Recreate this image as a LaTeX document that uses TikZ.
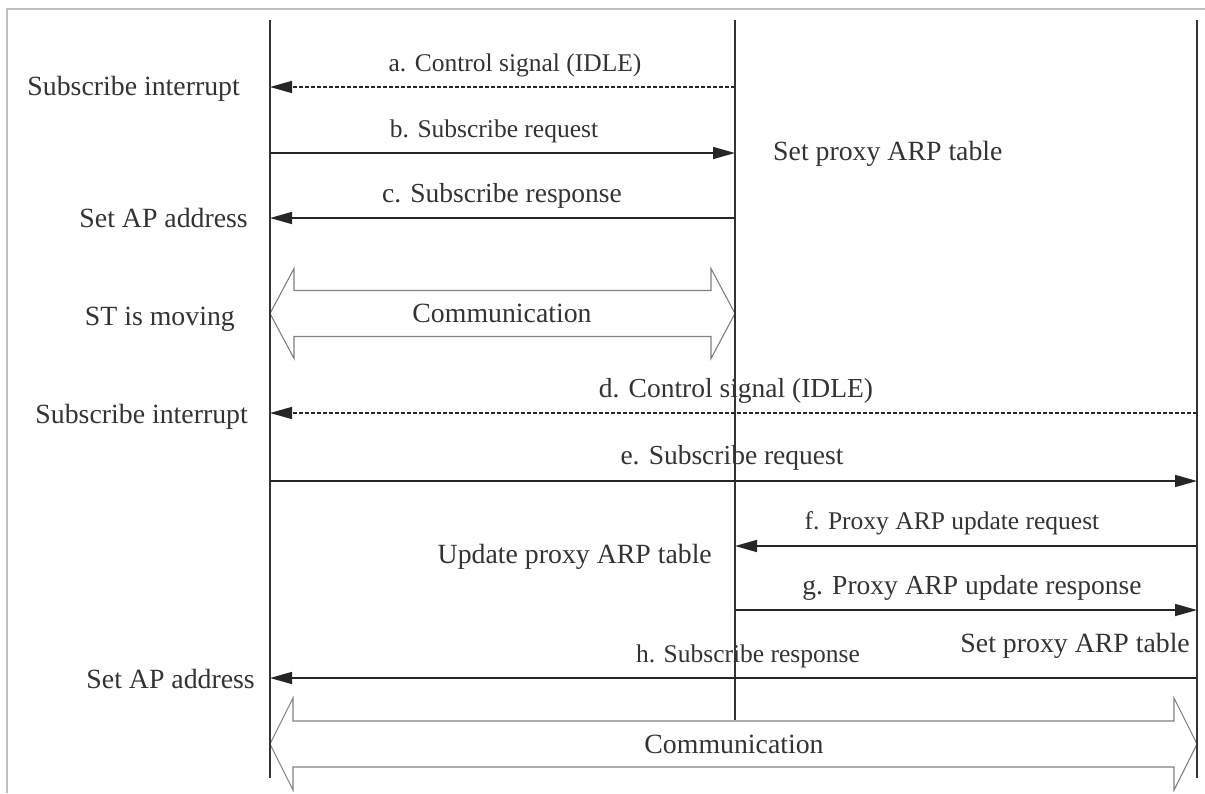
\documentclass[tikz,border=0pt]{standalone}
\usepackage{fontspec}
\setmainfont{Liberation Serif}
\usetikzlibrary{arrows.meta}
\begin{document}
\begin{tikzpicture}[x=1pt,y=-1pt,
  lifeline/.style={draw=black!80,line width=1.6pt},
  msg/.style={draw=black!85,line width=1.5pt,-{Triangle[length=22pt,width=12pt]}},
  dmsg/.style={msg,dash pattern=on 4pt off 2pt},
  mlabel/.style={anchor=base,text=black!80,inner sep=0pt,font=\fontsize{25.5}{28}\selectfont},
  mlabelL/.style={anchor=base,text=black!80,inner sep=0pt,font=\fontsize{27.5}{30}\selectfont},
  slabel/.style={text=black!80,inner sep=0pt,font=\fontsize{27.8}{30}\selectfont},
  hollow/.style={draw=black!50,line width=1.1pt,fill=white},
  frame/.style={draw=black!25,line width=2pt}]
\useasboundingbox (0,0) rectangle (1205,793);
\draw[frame] (7,793) -- (7,9) -- (1205,9);
% hollow double arrows
\draw[hollow] (270,313.5) -- (294,268.5) -- (294,290.5) -- (711,290.5) -- (711,268.5) -- (735,313.5) -- (711,358.5) -- (711,336.5) -- (294,336.5) -- (294,358.5) -- cycle;
\draw[hollow] (270,744) -- (293,698) -- (293,721) -- (1174,721) -- (1174,698) -- (1197,744) -- (1174,790) -- (1174,767) -- (293,767) -- (293,790) -- cycle;
% lifelines
\coordinate (L1t) at (270,20); \coordinate (L1b) at (270,778);
\coordinate (L2t) at (735,20); \coordinate (L2b) at (735,720);
\coordinate (L3t) at (1197,20); \coordinate (L3b) at (1197,778);
\draw[lifeline] (L1t) -- (L1b);
\draw[lifeline] (L2t) -- (L2b);
\draw[lifeline] (L3t) -- (L3b);
% message endpoints
\coordinate (a0) at (270,87);  \coordinate (a1) at (735,87);
\coordinate (b0) at (270,153); \coordinate (b1) at (735,153);
\coordinate (c0) at (270,218); \coordinate (c1) at (735,218);
\coordinate (d0) at (270,413); \coordinate (d1) at (1197,413);
\coordinate (e0) at (270,481); \coordinate (e1) at (1197,481);
\coordinate (f0) at (735,546); \coordinate (f1) at (1197,546);
\coordinate (g0) at (735,610); \coordinate (g1) at (1197,610);
\coordinate (h0) at (270,678); \coordinate (h1) at (1197,678);
\draw[dmsg] (a1) -- (a0);
\draw[msg] (b0) -- (b1);
\draw[msg] (c1) -- (c0);
\draw[dmsg] (d1) -- (d0);
\draw[msg] (e0) -- (e1);
\draw[msg] (f1) -- (f0);
\draw[msg] (g0) -- (g1);
\draw[msg] (h1) -- (h0);
% message labels
\node[mlabel] (la) at (515,71) {a. Control signal (IDLE)};
\node[mlabel] (lb) at (494,137) {b. Subscribe request};
\node[mlabelL] (lc) at (502,202) {c. Subscribe response};
\node[mlabelL] (ld) at (736,397) {d. Control signal (IDLE)};
\node[mlabelL] (le) at (732,464) {e. Subscribe request};
\node[mlabel] (lf) at (952,529) {f. Proxy ARP update request};
\node[mlabelL] (lg) at (972,594) {g. Proxy ARP update response};
\node[mlabel] (lh) at (748,662) {h. Subscribe response};
% side labels
\node[slabel,anchor=base east] (s1) at (240,95) {Subscribe interrupt};
\node[slabel,anchor=base west] (s2) at (773,160) {Set proxy ARP table};
\node[slabel,anchor=base east] (s3) at (248,227) {Set AP address};
\node[slabel,anchor=base east] (s4) at (235,325) {ST is moving};
\node[slabel,anchor=base] (s5) at (502,322) {Communication};
\node[slabel,anchor=base east] (s6) at (248,423) {Subscribe interrupt};
\node[slabel,anchor=base east] (s7) at (712,563) {Update proxy ARP table};
\node[slabel,anchor=base east] (s8) at (1190,652) {Set proxy ARP table};
\node[slabel,anchor=base east] (s9) at (255,688) {Set AP address};
\node[slabel,anchor=base] (s10) at (734,753) {Communication};
\end{tikzpicture}
\end{document}
